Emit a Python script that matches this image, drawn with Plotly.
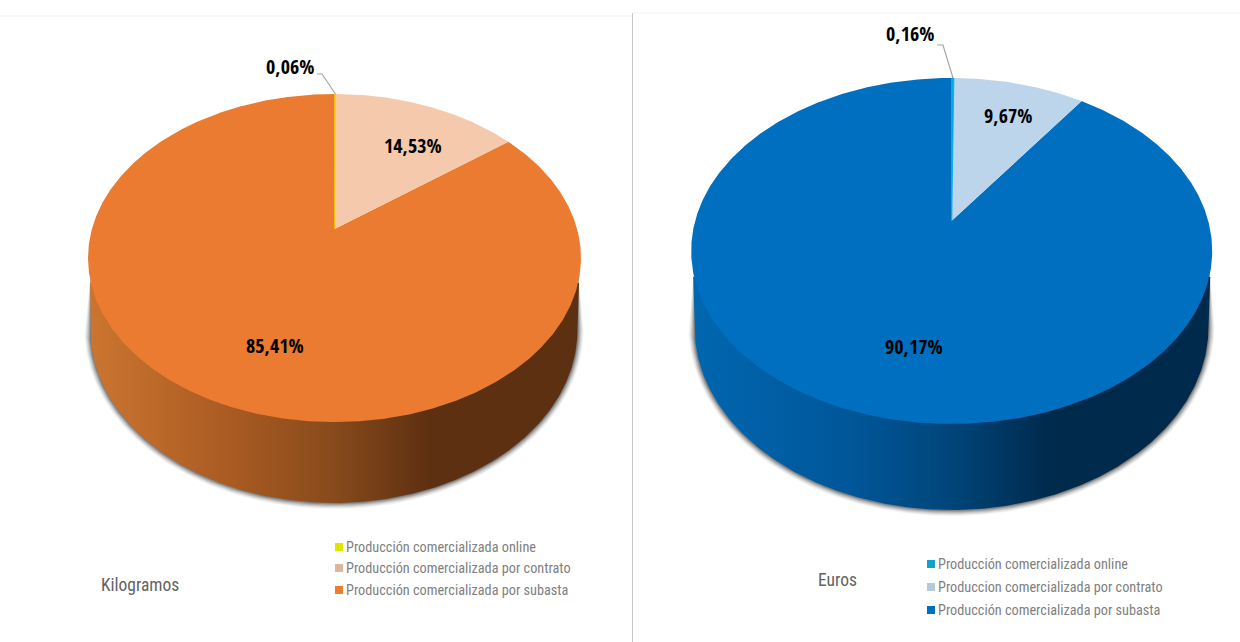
import numpy as np
import plotly.graph_objects as go

# ---- data ----
series_names_kg = ["Producción comercializada online", "Producción comercializada por contrato", "Producción comercializada por subasta"]
series_names_eur = ["Producción comercializada online", "Produccion comercializada por contrato", "Producción comercializada por subasta"]
values_kg = [0.06, 14.53, 85.41]
values_eur = [0.16, 9.67, 90.17]
colors_kg = ["#F2C200", "#F5CAAC", "#EB7B31"]
colors_eur = ["#00A8E8", "#BDD5EB", "#006FBF"]
legend_colors_kg = ["#E3E300", "#DDB79C", "#ED7D31"]
legend_colors_eur = ["#12A0D0", "#B4C8DC", "#0070C0"]
side_stops_kg = [(0, "#CC7530"), (0.30, "#A85A22"), (0.50, "#874A1C"), (0.69, "#5E3012"), (1, "#5E3012")]
side_stops_eur = [(0, "#0067B0"), (0.30, "#00579A"), (0.50, "#00457A"), (0.69, "#002A4C"), (1, "#002A4C")]
titles = ["Kilogramos", "Euros"]

LABEL_FONT = dict(family="Open Sans Condensed", size=20, color="#000000")
LEGEND_FONT = dict(family="Roboto Condensed", size=14.25, color="#7F7F7F")
TITLE_FONT = dict(family="Roboto Condensed", size=17.5, color="#636363")

fig = go.Figure()


def pie(cx, ay, A, B, k, low, values, colors, stops):
    """Perspective pie: rim points come from a projective map of the unit circle."""
    def rim(t):
        w = 1 + k * np.cos(t)
        return cx + A * np.sin(t) / w, ay - B * np.cos(t) / w

    lcx, lcy, lrx, lry, top_y = low
    rx, ry = rim(np.linspace(0, 2 * np.pi, 721))
    half = float(rx.max() - rx.min()) / 2

    # soft shadow under the side wall, tapering into the rim at the shoulders
    for grow, alpha in [(6, 0.06), (5, 0.08), (4, 0.11), (3, 0.15), (2, 0.20), (1, 0.28)]:
        t = np.linspace(np.pi, 0, 361)
        sx = lcx + (lrx + grow) * np.cos(t)
        sy = lcy + (lry + grow) * np.sin(t)
        fig.add_trace(go.Scatter(x=np.concatenate([[cx - half + 3], sx, [cx + half - 3]]),
                                 y=np.concatenate([[top_y - 14], sy, [top_y - 14]]),
                                 mode="lines", line=dict(width=0), fill="toself",
                                 fillcolor=f"rgba(50,50,50,{alpha})", hoverinfo="skip", showlegend=False))

    # side wall with horizontal gradient
    t = np.linspace(np.pi, 0, 361)
    lx, ly = lcx + lrx * np.cos(t), lcy + lry * np.sin(t)
    wall_x = np.concatenate([[cx - half + 2], lx, [cx + half - 2]])
    wall_y = np.concatenate([[top_y], ly, [top_y]])
    fig.add_trace(go.Scatter(x=wall_x, y=wall_y, mode="lines", line=dict(width=0), fill="toself",
                             fillgradient=dict(type="horizontal", start=float(rx.min()), stop=float(rx.max()),
                                               colorscale=[[p, c] for p, c in stops]),
                             hoverinfo="skip", showlegend=False))

    # top face: wedges, clockwise from twelve o'clock
    starts = np.concatenate([[0], np.cumsum(values)[:-1]])
    for i in [2, 1, 0]:
        a0 = starts[i] / 100 * 2 * np.pi
        a1 = (starts[i] + values[i]) / 100 * 2 * np.pi
        t = np.linspace(a0, a1, max(3, int(values[i] * 8)))
        x, y = rim(t)
        fig.add_trace(go.Scatter(x=np.concatenate([[cx], x, [cx]]), y=np.concatenate([[ay], y, [ay]]),
                                 mode="lines", line=dict(width=0.8 if i == 0 else 0, color=colors[i]),
                                 fill="toself", fillcolor=colors[i], hoverinfo="skip", showlegend=False))


pie(334.5, 229, 242.6, 158.9, 0.177, (334, 330, 243.5, 173, 283), values_kg, colors_kg, side_stops_kg)
pie(951.7, 220.7, 256.5, 167.7, 0.175, (951.5, 327, 257, 183, 277), values_eur, colors_eur, side_stops_eur)


def fmt(v):
    return f"{v:.2f}".replace(".", ",") + "%"


annotations = []
for v, (x, y) in zip(values_kg, [(290, 66.5), (413, 145), (275, 345)]):
    annotations.append(dict(x=x, y=y, text=f"<b>{fmt(v)}</b>", showarrow=False, font=LABEL_FONT))
for v, (x, y) in zip(values_eur, [(910, 33), (1008, 115), (914, 346)]):
    annotations.append(dict(x=x, y=y, text=f"<b>{fmt(v)}</b>", showarrow=False, font=LABEL_FONT))

# leader lines
for xs, ys in [([317, 322, 335.5], [74, 74, 94]), ([937, 943, 953], [45, 45, 78])]:
    fig.add_trace(go.Scatter(x=xs, y=ys, mode="lines", line=dict(color="#A6A6A6", width=1.2),
                             hoverinfo="skip", showlegend=False))

# legends
for names, cols, mx, ys in [(series_names_kg, legend_colors_kg, 339, [547, 568, 590]),
                            (series_names_eur, legend_colors_eur, 931, [564, 587, 610])]:
    for n, c, y in zip(names, cols, ys):
        fig.add_trace(go.Scatter(x=[mx], y=[y], mode="markers",
                                 marker=dict(symbol="square", size=8, color=c, line=dict(width=0)),
                                 hoverinfo="skip", showlegend=False))
        annotations.append(dict(x=mx + 5, y=y, text=n, showarrow=False, xanchor="left", font=LEGEND_FONT))

annotations.append(dict(x=140, y=585, text=titles[0], showarrow=False, font=TITLE_FONT))
annotations.append(dict(x=837, y=580, text=titles[1], showarrow=False, font=TITLE_FONT))

shapes = [
    dict(type="line", x0=0, x1=632, y0=16, y1=16, line=dict(color="#EFEFEF", width=1)),
    dict(type="line", x0=632, x1=1240, y0=13, y1=13, line=dict(color="#F4F4F4", width=1)),
    dict(type="line", x0=632.5, x1=632.5, y0=13, y1=642, line=dict(color="#C8C8C8", width=1)),
]

fig.update_layout(
    width=1240, height=642, margin=dict(l=0, r=0, t=0, b=0),
    paper_bgcolor="#FFFFFF", plot_bgcolor="#FFFFFF", showlegend=False,
    xaxis=dict(range=[0, 1240], visible=False, fixedrange=True),
    yaxis=dict(range=[642, 0], visible=False, fixedrange=True),
    annotations=annotations, shapes=shapes,
)
fig.write_html("out.html", config=dict(displayModeBar=False),
               post_script="document.body.style.margin='0';")
